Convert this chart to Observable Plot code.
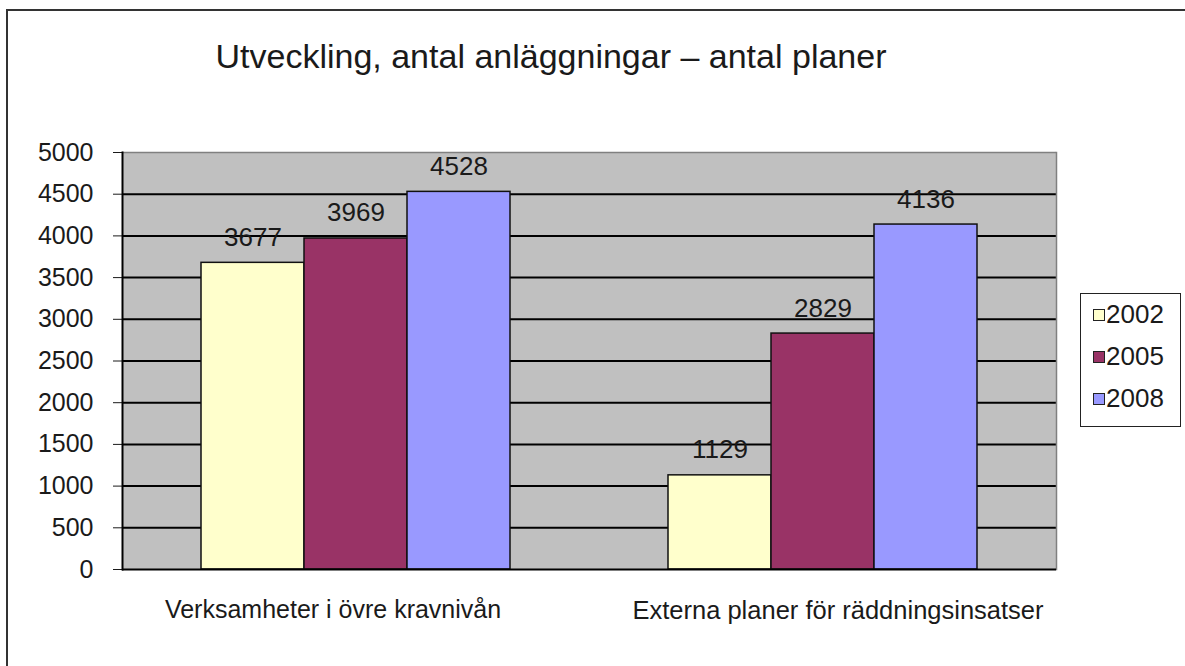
<!DOCTYPE html>
<html>
<head>
<meta charset="utf-8">
<script src="https://cdn.jsdelivr.net/npm/d3@7"></script>
<script src="https://cdn.jsdelivr.net/npm/@observablehq/plot@0.6"></script>
<style>
  html, body { margin: 0; padding: 0; background: #fff; overflow: hidden; }
  #wrap { position: relative; width: 1185px; height: 666px; overflow: hidden; font-family: "Liberation Sans", Arial, sans-serif; }
  #outer { position: absolute; left: 6px; top: 9px; width: 1300px; height: 800px; border: 2px solid #333; box-sizing: border-box; }
  #title { position: absolute; left: 0; width: 1102px; top: 39px; text-align: center; font-size: 34px; line-height: 34px; color: #1a1a1a; white-space: nowrap; }
  #chart { position: absolute; left: 0; top: 0; }
  #legend { position: absolute; left: 1080px; top: 293px; width: 101px; height: 134px; border: 1.5px solid #222; box-sizing: border-box; background: #fff; }
  .item { position: absolute; left: 12px; height: 28px; font-size: 26px; line-height: 28px; color: #1a1a1a; white-space: nowrap; }
  .sw { display: inline-block; width: 10px; height: 10px; border: 1px solid #222; margin-right: 1px; vertical-align: 2px; }
</style>
</head>
<body>
<div id="wrap">
  <div id="outer"></div>
  <div id="title">Utveckling, antal anläggningar – antal planer</div>
  <div id="chart"></div>
  <div id="legend"></div>
</div>
<script>
const categories = ["Verksamheter i övre kravnivån", "Externa planer för räddningsinsatser"];
const years = ["2002", "2005", "2008"];
const values2002 = [3677, 1129];
const values2005 = [3969, 2829];
const values2008 = [4528, 4136];
const yearColors = ["#FFFFCC", "#993366", "#9999FF"];
const yTicks = [0, 500, 1000, 1500, 2000, 2500, 3000, 3500, 4000, 4500, 5000];

const seriesValues = [values2002, values2005, values2008];
const data = categories.flatMap((c, i) =>
  years.map((y, j) => ({category: c, year: y, value: seriesValues[j][i]}))
);

const chart = Plot.plot({
  width: 1185,
  height: 666,
  marginLeft: 122,
  marginRight: 129,
  marginTop: 152,
  marginBottom: 97,
  style: {fontFamily: "'Liberation Sans', Arial, sans-serif", fontSize: "25px", color: "#1a1a1a", background: "transparent", overflow: "visible"},
  fx: {domain: categories, padding: 0, label: null},
  x: {domain: years, paddingInner: 0, paddingOuter: 0.756, axis: null},
  y: {domain: [0, 5000], ticks: yTicks, tickSize: 9, tickPadding: 20, label: null, tickFormat: d => String(d)},
  color: {domain: years, range: yearColors},
  marks: [
    Plot.frame({fill: "#C0C0C0", stroke: "#C0C0C0", strokeWidth: 1, shapeRendering: "crispEdges"}),
    Plot.ruleY(yTicks.filter(t => t > 0 && t < 5000), {stroke: "#000", strokeWidth: 2}),
    Plot.ruleY([5000], {stroke: "#808080", strokeWidth: 1.5}),
    Plot.frame({anchor: "right", facetAnchor: "right", stroke: "#808080", strokeWidth: 1.5}),
    Plot.barY(data, {fx: "category", x: "year", y: "value", fill: "year", stroke: "#111", strokeWidth: 1.5}),
    Plot.text(data, {fx: "category", x: "year", y: "value", text: d => String(d.value), lineAnchor: "bottom", dy: -17, fontSize: 26, fill: "#1a1a1a"}),
    Plot.ruleY([0], {stroke: "#000", strokeWidth: 2}),
    Plot.frame({anchor: "left", facetAnchor: "left", stroke: "#000", strokeWidth: 2}),
    Plot.axisFx({ticks: [categories[0]], anchor: "bottom", tickSize: 0, tickPadding: 31, dx: -23, label: null}),
    Plot.axisFx({ticks: [categories[1]], anchor: "bottom", tickSize: 0, tickPadding: 31, dx: 15, label: null, fontSize: 25.5})
  ]
});
document.getElementById("chart").appendChild(chart);

const legend = document.getElementById("legend");
const rowTops = [6, 48, 90];
years.forEach((y, i) => {
  const it = document.createElement("div");
  it.className = "item";
  it.style.top = rowTops[i] + "px";
  it.innerHTML = `<span class="sw" style="background:${yearColors[i]}"></span>${y}`;
  legend.appendChild(it);
});
</script>
</body>
</html>
